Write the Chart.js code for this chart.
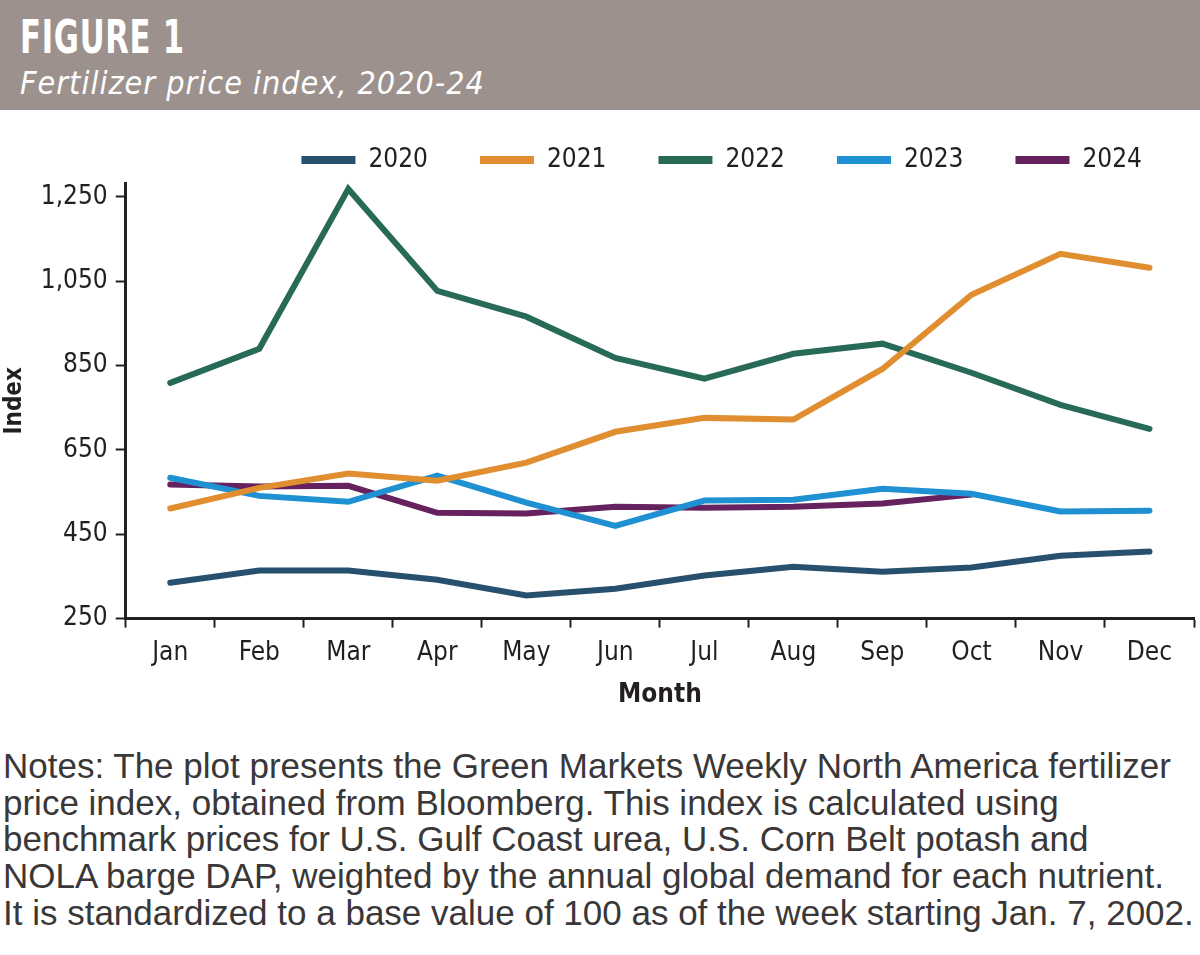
<!DOCTYPE html>
<html>
<head>
<meta charset="utf-8">
<script src="https://cdn.jsdelivr.net/npm/chart.js@4.4.1/dist/chart.umd.min.js"></script>
<style>
  html, body { margin: 0; padding: 0; background: #fff; }
  body { width: 1200px; height: 955px; position: relative; overflow: hidden; }
  .header { position: absolute; left: 0; top: 0; width: 1200px; height: 110px; background: #9c918d; color: #fff; }
  .header h1 { position: absolute; left: 20px; top: 10px; margin: 0; font: bold 46px "DejaVu Sans Condensed", sans-serif; letter-spacing: 1px; transform: scaleX(0.74); transform-origin: left top; }
  .header h2 { position: absolute; left: 20px; top: 64px; margin: 0; font: italic 32px "DejaVu Sans Condensed", sans-serif; font-weight: normal; letter-spacing: 1px; }
  .chart-wrap { position: absolute; left: 0; top: 85px; width: 1200px; height: 632px; }
  .notes { position: absolute; left: 3px; top: 748px; width: 1200px; margin: 0; font: 35px "Liberation Sans", Arial, sans-serif; line-height: 36.7px; color: #3a3738; white-space: nowrap; }
</style>
</head>
<body>
<div class="header">
  <h1>FIGURE 1</h1>
  <h2>Fertilizer price index, 2020-24</h2>
</div>
<div class="chart-wrap"><canvas id="chart"></canvas></div>
<p class="notes">Notes: The plot presents the Green Markets Weekly North America fertilizer<br>price index, obtained from Bloomberg. This index is calculated using<br>benchmark prices for U.S. Gulf Coast urea, U.S. Corn Belt potash and<br>NOLA barge DAP, weighted by the annual global demand for each nutrient.<br>It is standardized to a base value of 100 as of the week starting Jan. 7, 2002.</p>
<script>
const MONTHS = ["Jan", "Feb", "Mar", "Apr", "May", "Jun", "Jul", "Aug", "Sep", "Oct", "Nov", "Dec"];
const Y_TICKS = [250, 450, 650, 850, 1050, 1250];

const IDX_2020 = [335, 364, 364, 342, 305, 321, 352, 373, 361, 371, 399, 409];
const IDX_2021 = [511, 560, 594, 577, 620, 693, 726, 722, 842, 1018, 1115, 1082];
const IDX_2022 = [809, 890, 1269, 1027, 966, 868, 819, 878, 902, 833, 757, 700];
const IDX_2023 = [584, 541, 527, 589, 525, 470, 530, 532, 558, 546, 504, 506];
const IDX_2024 = [568, 563, 565, 501, 499, 515, 513, 515, 523, 544, null, null];

const SERIES = [
  { label: "2020", data: IDX_2020, color: "#27506f" },
  { label: "2021", data: IDX_2021, color: "#e08e2f" },
  { label: "2022", data: IDX_2022, color: "#286a58" },
  { label: "2023", data: IDX_2023, color: "#1f90d1" },
  { label: "2024", data: IDX_2024, color: "#66225e" },
];

const INK = "#231f20";
const NARROW = "'DejaVu Sans Condensed', sans-serif";

new Chart(document.getElementById("chart"), {
  type: "line",
  data: {
    labels: MONTHS,
    datasets: SERIES.map(s => ({
      label: s.label,
      data: s.data,
      borderColor: s.color,
      backgroundColor: s.color,
      borderWidth: 6,
      pointRadius: 0,
      tension: 0,
      spanGaps: false,
      borderCapStyle: "round",
      borderJoinStyle: "miter",
    })),
  },
  options: {
    responsive: true,
    maintainAspectRatio: false,
    animation: false,
    layout: { padding: { top: 10, right: 6, bottom: 6, left: 0 } },
    plugins: {
      legend: {
        position: "top",
        align: "end",
        labels: {
          boxWidth: 54,
          boxHeight: 8,
          padding: 52,
          color: INK,
          font: { family: NARROW, size: 26 },
          generateLabels: chart => Chart.defaults.plugins.legend.labels.generateLabels(chart)
            .map(item => ({ ...item, lineWidth: 0 })),
        },
      },
      tooltip: { enabled: false },
    },
    scales: {
      x: {
        offset: true,
        grid: { display: true, drawOnChartArea: false, offset: true, tickLength: 9, tickWidth: 2, tickColor: INK },
        border: { display: true, color: INK, width: 3 },
        ticks: { color: INK, font: { family: NARROW, size: 26 }, padding: 10, maxRotation: 0 },
        title: { display: true, text: "Month", color: INK, font: { family: NARROW, size: 26, weight: "bold" }, padding: { top: 1, bottom: 0 } },
      },
      y: {
        min: 250,
        max: 1283,
        afterBuildTicks: axis => { axis.ticks = Y_TICKS.map(v => ({ value: v })); },
        grid: { display: true, drawOnChartArea: false, tickLength: 10, tickWidth: 2, tickColor: INK },
        border: { display: true, color: INK, width: 3 },
        ticks: { color: INK, font: { family: NARROW, size: 26 }, padding: 8, callback: v => v.toLocaleString("en-US") },
        title: { display: true, text: "Index", color: INK, font: { family: NARROW, size: 24, weight: "bold" }, padding: { top: 0, bottom: 4 } },
      },
    },
  },
});
</script>
</body>
</html>
